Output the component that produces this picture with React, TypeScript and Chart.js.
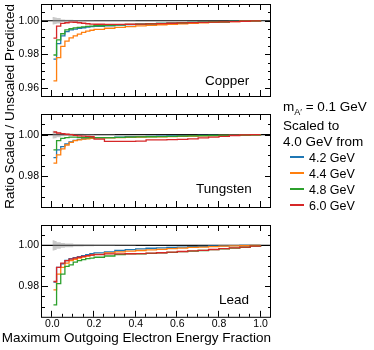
import React, { useEffect, useRef } from "react";
import { Chart, registerables } from "chart.js";
Chart.register(...registerables);

// ---------- data ----------
const X = [0.005, 0.02, 0.04, 0.06, 0.08, 0.1, 0.12, 0.14, 0.16, 0.18, 0.2, 0.25, 0.3, 0.35, 0.4, 0.45, 0.5, 0.55, 0.6, 0.65, 0.7, 0.75, 0.8, 0.85, 0.9, 0.95, 1.0];

const CU_42 = [0.977, 0.9863, 0.991, 0.9935, 0.9945, 0.995, 0.9955, 0.9958, 0.9962, 0.9965, 0.9967, 0.997, 0.9974, 0.9977, 0.998, 0.9982, 0.9984, 0.9986, 0.9988, 0.999, 0.9991, 0.9993, 0.9994, 0.9996, 0.9997, 0.9999, 1.0];
const CU_44 = [0.964, 0.978, 0.9847, 0.9878, 0.9898, 0.991, 0.992, 0.993, 0.9938, 0.9943, 0.9948, 0.9955, 0.996, 0.9965, 0.9969, 0.9973, 0.9976, 0.9979, 0.9982, 0.9985, 0.9988, 0.999, 0.9993, 0.9995, 0.9997, 0.9999, 1.0];
const CU_48 = [0.9795, 0.9886, 0.9922, 0.9945, 0.9952, 0.9957, 0.996, 0.9963, 0.9966, 0.9968, 0.997, 0.9973, 0.9976, 0.9978, 0.998, 0.9982, 0.9984, 0.9986, 0.9988, 0.999, 0.9991, 0.9993, 0.9994, 0.9996, 0.9997, 0.9999, 1.0];
const CU_60 = [0.9896, 0.9968, 0.9984, 0.9988, 0.9992, 0.9991, 0.9988, 0.9985, 0.9982, 0.998, 0.9979, 0.9978, 0.9978, 0.9979, 0.998, 0.9981, 0.9983, 0.9985, 0.9987, 0.9989, 0.999, 0.9992, 0.9993, 0.9995, 0.9997, 0.9999, 1.0];

const W_42 = [0.9889, 0.9926, 0.9942, 0.9955, 0.9965, 0.9972, 0.9977, 0.998, 0.9982, 0.9984, 0.9985, 0.9986, 0.9988, 0.999, 0.9991, 0.9992, 0.9993, 0.9994, 0.9995, 0.9995, 0.9996, 0.9997, 0.9997, 0.9998, 0.9999, 0.9999, 1.0];
const W_44 = [0.9862, 0.9902, 0.9931, 0.995, 0.9963, 0.9971, 0.9975, 0.9978, 0.998, 0.9982, 0.9984, 0.9985, 0.9986, 0.9987, 0.9988, 0.9989, 0.999, 0.9991, 0.9992, 0.9993, 0.9994, 0.9995, 0.9996, 0.9997, 0.9998, 0.9999, 1.0];
const W_48 = [0.9926, 0.9971, 0.9982, 0.9986, 0.9988, 0.9988, 0.9987, 0.9986, 0.9986, 0.9986, 0.9986, 0.9986, 0.9987, 0.9988, 0.9989, 0.999, 0.9991, 0.9992, 0.9993, 0.9994, 0.9995, 0.9996, 0.9997, 0.9997, 0.9998, 0.9999, 1.0];
const W_60 = [1.0013, 1.0008, 1.0005, 1.0002, 1.0, 0.9997, 0.9994, 0.9993, 0.9992, 0.999, 0.9978, 0.9968, 0.9968, 0.9968, 0.9969, 0.9975, 0.9975, 0.9976, 0.9977, 0.998, 0.9984, 0.9988, 0.9992, 0.9996, 0.9999, 1.0, 1.0];

const PB_42 = [0.982, 0.9892, 0.991, 0.9926, 0.9935, 0.994, 0.9945, 0.995, 0.9955, 0.9959, 0.9963, 0.9968, 0.9975, 0.9979, 0.9983, 0.9986, 0.9988, 0.999, 0.9992, 0.9994, 0.9995, 0.9997, 0.9998, 0.9999, 1.0, 1.0, 1.0];
const PB_44 = [0.9782, 0.9859, 0.9892, 0.9913, 0.9925, 0.9932, 0.9938, 0.9943, 0.9948, 0.9952, 0.9956, 0.9963, 0.9968, 0.9972, 0.9975, 0.9978, 0.9981, 0.9984, 0.9987, 0.999, 0.9992, 0.9994, 0.9996, 0.9998, 0.9999, 1.0, 1.0];
const PB_48 = [0.9708, 0.9813, 0.9859, 0.9897, 0.9905, 0.9918, 0.9925, 0.993, 0.9935, 0.9938, 0.9942, 0.9948, 0.9955, 0.9958, 0.9959, 0.9961, 0.9963, 0.9966, 0.9969, 0.9972, 0.9975, 0.9979, 0.9983, 0.9987, 0.9991, 0.9996, 1.0];
const PB_60 = [0.9823, 0.9892, 0.9913, 0.9925, 0.9933, 0.9938, 0.9942, 0.9946, 0.995, 0.9953, 0.9955, 0.9958, 0.9958, 0.9959, 0.996, 0.9962, 0.9964, 0.9967, 0.997, 0.9973, 0.9976, 0.998, 0.9984, 0.9988, 0.9992, 0.9996, 1.0];

// statistical band half-width around 1
const BAND_X = [0, 0.01, 0.02, 0.04, 0.06, 0.1, 0.15, 0.2, 0.3, 0.4, 1.0];
const CU_BAND = [0.0022, 0.002, 0.0016, 0.0008, 0.0006, 0.0004, 0.0003, 0.0002, 0.0001, 0.00005, 0];
const W_BAND = [0.0019, 0.0017, 0.0012, 0.0008, 0.0006, 0.0004, 0.0003, 0.0002, 0.0001, 0.00005, 0];
const PB_BAND = [0.0025, 0.0022, 0.0016, 0.0012, 0.0009, 0.0006, 0.0004, 0.0003, 0.0002, 0.0001, 0];

const SERIES_LABELS = ["4.2 GeV", "4.4 GeV", "4.8 GeV", "6.0 GeV"];
const MATERIALS = ["Copper", "Tungsten", "Lead"];

const X_MAJOR = [0, 0.2, 0.4, 0.6, 0.8, 1.0];
const X_MINOR = [0.05, 0.1, 0.15, 0.25, 0.3, 0.35, 0.45, 0.5, 0.55, 0.65, 0.7, 0.75, 0.85, 0.9, 0.95];
const Y_MAJOR_CU = [0.96, 0.98, 1.0];
const Y_MINOR_CU = [0.965, 0.97, 0.975, 0.985, 0.99, 0.995, 1.005];
const Y_MAJOR = [0.98, 1.0];
const Y_MINOR = [0.97, 0.975, 0.985, 0.99, 0.995, 1.005];

// ---------- style ----------
const FONT = "'Liberation Sans', Arial, Helvetica, sans-serif";
const COLORS = ["#1f77b4", "#ff7f0e", "#2ca02c", "#d62728"];

const PANELS = [
  { name: MATERIALS[0], series: [CU_42, CU_44, CU_48, CU_60], band: CU_BAND, ymin: 0.955, ymax: 1.01, yMajor: Y_MAJOR_CU, yMinor: Y_MINOR_CU, top: 4, bottom: 96, showX: false, yTitle: true, labelX: 205, labelY: 84.5 },
  { name: MATERIALS[1], series: [W_42, W_44, W_48, W_60], band: W_BAND, ymin: 0.965, ymax: 1.01, yMajor: Y_MAJOR, yMinor: Y_MINOR, top: 114, bottom: 207, showX: false, yTitle: false, labelX: 196, labelY: 192.7 },
  { name: MATERIALS[2], series: [PB_42, PB_44, PB_48, PB_60], band: PB_BAND, ymin: 0.965, ymax: 1.01, yMajor: Y_MAJOR, yMinor: Y_MINOR, top: 225, bottom: 317, showX: true, yTitle: false, labelX: 219, labelY: 304.3 },
];

function makeChart(canvas: HTMLCanvasElement, p: any) {
  const datasets: any[] = [
    {
      data: BAND_X.map((x, i) => ({ x, y: 1 - p.band[i] })),
      borderWidth: 0, borderColor: "rgba(0,0,0,0)", pointRadius: 0, stepped: true, fill: false, order: 20,
    },
    {
      data: BAND_X.map((x, i) => ({ x, y: 1 + p.band[i] })),
      borderWidth: 0, borderColor: "rgba(0,0,0,0)", pointRadius: 0, stepped: true, fill: "-1",
      backgroundColor: "rgba(150,150,150,0.5)", order: 19,
    },
    ...p.series.map((vals: number[], k: number) => ({
      label: SERIES_LABELS[k],
      data: X.map((x, i) => ({ x, y: vals[i] })),
      borderColor: COLORS[k], borderWidth: 1.3, pointRadius: 0, stepped: true, fill: false, order: 4 - k,
    })),
  ];

  const deco = {
    id: "deco",
    beforeDatasetsDraw(chart: any) {
      const { ctx, chartArea: a, scales } = chart;
      const y = scales.y.getPixelForValue(1);
      ctx.save();
      ctx.strokeStyle = "#000";
      ctx.lineWidth = 1.2;
      ctx.beginPath();
      ctx.moveTo(a.left, y);
      ctx.lineTo(a.right, y);
      ctx.stroke();
      ctx.restore();
    },
    afterDraw(chart: any) {
      const { ctx, chartArea: a, scales } = chart;
      ctx.save();
      ctx.strokeStyle = "#000";
      ctx.lineWidth = 1;
      ctx.strokeRect(a.left - 0.5, a.top + 0.5, a.right - a.left, a.bottom - a.top);
      const xt = (v: number, len: number) => {
        const px = Math.round(scales.x.getPixelForValue(v)) - 0.5;
        ctx.beginPath();
        ctx.moveTo(px, a.bottom);
        ctx.lineTo(px, a.bottom - len);
        ctx.moveTo(px, a.top);
        ctx.lineTo(px, a.top + len);
        ctx.stroke();
      };
      const yt = (v: number, len: number) => {
        const py = Math.round(scales.y.getPixelForValue(v)) + 0.5;
        ctx.beginPath();
        ctx.moveTo(a.left, py);
        ctx.lineTo(a.left + len, py);
        ctx.moveTo(a.right, py);
        ctx.lineTo(a.right - len, py);
        ctx.stroke();
      };
      X_MAJOR.forEach((v) => xt(v, 6));
      X_MINOR.forEach((v) => xt(v, 3));
      p.yMajor.forEach((v: number) => yt(v, 6));
      p.yMinor.forEach((v: number) => yt(v, 3));
      ctx.fillStyle = "#000";
      ctx.font = `13.5px ${FONT}`;
      ctx.textAlign = "left";
      ctx.textBaseline = "alphabetic";
      ctx.fillText(p.name, p.labelX, p.labelY);
      ctx.restore();
    },
  };

  return new Chart(canvas, {
    type: "line",
    data: { datasets },
    plugins: [deco],
    options: {
      responsive: false,
      animation: false,
      events: [],
      layout: { padding: { left: 0, right: 103, top: p.top, bottom: p.showX ? 0 : 350 - p.bottom } },
      plugins: {
        legend: { display: false },
        tooltip: { enabled: false },
        title: {
          display: p.showX,
          text: "Maximum Outgoing Electron Energy Fraction",
          position: "bottom",
          align: "end",
          color: "#000",
          font: { size: 13.5, family: FONT, weight: "normal" },
          padding: { top: 0, bottom: 4 },
        },
      },
      scales: {
        x: {
          type: "linear",
          min: -0.05,
          max: 1.05,
          display: p.showX,
          grid: { display: false, drawTicks: false },
          border: { display: false },
          afterBuildTicks: (s: any) => { s.ticks = X_MAJOR.map((v) => ({ value: v })); },
          ticks: {
            padding: 1, color: "#000", autoSkip: false, maxRotation: 0,
            font: { size: 10.5, family: FONT },
            callback: (v: any) => Number(v).toFixed(1),
          },
          afterFit: (s: any) => { s.height = p.showX ? 13 : 0; s.paddingLeft = 0; s.paddingRight = 0; },
        },
        y: {
          type: "linear",
          min: p.ymin,
          max: p.ymax,
          grid: { display: false, drawTicks: false },
          border: { display: false },
          afterBuildTicks: (s: any) => { s.ticks = p.yMajor.map((v: number) => ({ value: v })); },
          ticks: {
            padding: 3, color: "#000", autoSkip: false,
            font: { size: 10.5, family: FONT },
            callback: (v: any) => Number(v).toFixed(2),
          },
          title: {
            display: p.yTitle, text: "Ratio Scaled / Unscaled Predicted", align: "end", color: "#000",
            font: { size: 13.5, family: FONT }, padding: { top: 2.4, bottom: 0 },
          },
          afterFit: (s: any) => { s.width = 42; s.paddingTop = 0; s.paddingBottom = 0; },
        },
      },
    } as any,
  });
}

function LegendBox() {
  const txt: React.CSSProperties = { position: "absolute", left: 283, fontSize: 13.5, lineHeight: "13.5px", whiteSpace: "nowrap", color: "#000" };
  const baselinesTitle = [111.7, 130.5, 146.3];
  const itemBase = [162.3, 178.3, 194.3, 210.3];
  const top = (b: number, f: number) => b - 0.8465 * f;
  return (
    <>
      <div style={{ ...txt, top: top(baselinesTitle[0], 13.5) }}>
        m<span style={{ fontSize: 9, position: "relative", top: 3.5 }}>A′</span> = 0.1 GeV
      </div>
      <div style={{ ...txt, top: top(baselinesTitle[1], 13.5) }}>Scaled to</div>
      <div style={{ ...txt, top: top(baselinesTitle[2], 13.5) }}>4.0 GeV from</div>
      {SERIES_LABELS.map((lab, k) => (
        <React.Fragment key={lab}>
          <div style={{ position: "absolute", left: 290, width: 14, top: Math.round(itemBase[k] - 6), height: 0, borderTop: `2px solid ${COLORS[k]}` }} />
          <div style={{ ...txt, left: 309, fontSize: 12.5, lineHeight: "12.5px", top: top(itemBase[k], 12.5) }}>{lab}</div>
        </React.Fragment>
      ))}
    </>
  );
}

export default function App() {
  const r1 = useRef<HTMLCanvasElement>(null);
  const r2 = useRef<HTMLCanvasElement>(null);
  const r3 = useRef<HTMLCanvasElement>(null);
  useEffect(() => {
    const refs = [r1, r2, r3];
    const charts = PANELS.map((p, i) => makeChart(refs[i].current as HTMLCanvasElement, p));
    return () => charts.forEach((c) => c.destroy());
  }, []);
  const cs: React.CSSProperties = { position: "absolute", left: 0, top: 0, width: 374, height: 350 };
  return (
    <div style={{ position: "fixed", left: 0, top: 0, width: 374, height: 350, background: "#fff", fontFamily: FONT, overflow: "hidden" }}>
      <canvas ref={r1} width={374} height={350} style={cs} />
      <canvas ref={r2} width={374} height={350} style={cs} />
      <canvas ref={r3} width={374} height={350} style={cs} />
      <LegendBox />
    </div>
  );
}
